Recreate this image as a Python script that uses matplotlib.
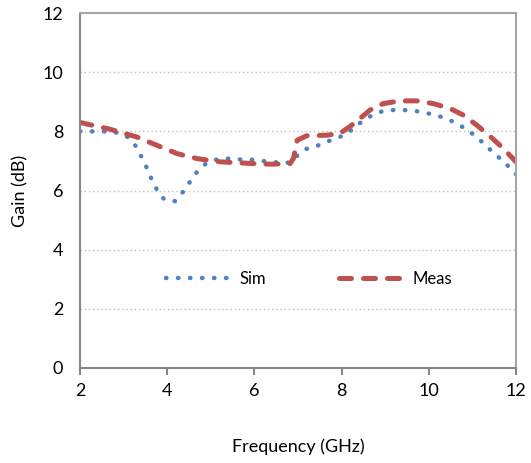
import numpy as np
import matplotlib.pyplot as plt

# simulated gain (dotted blue)
sim_f = [2.0, 2.5, 2.9, 3.1, 3.28, 3.41, 3.53, 3.64, 3.77, 3.93, 4.18, 4.36, 4.52, 4.68,
         4.88, 5.14, 5.42, 5.68, 5.96, 6.24, 6.51, 6.82, 7.0, 7.18, 7.44, 7.7, 7.96,
         8.19, 8.41, 8.65, 8.89, 9.16, 9.44, 9.72, 10.0, 10.26, 10.52, 10.76, 10.99,
         11.2, 11.4, 11.62, 11.81, 12.0]
sim_g = [8.0, 8.0, 7.95, 7.8, 7.5, 7.14, 6.77, 6.39, 6.01, 5.70, 5.64, 5.95, 6.29, 6.62,
         6.9, 7.05, 7.08, 7.05, 7.04, 6.99, 6.95, 6.94, 7.2, 7.4, 7.51, 7.67, 7.81,
         8.0, 8.27, 8.5, 8.66, 8.72, 8.72, 8.68, 8.6, 8.5, 8.35, 8.16, 7.93,
         7.67, 7.39, 7.1, 6.84, 6.55]

# measured gain (dashed red)
meas_f = [2.0, 2.69, 3.3, 3.76, 4.22, 4.68, 5.21, 5.97, 6.36, 6.82, 6.9, 6.98, 7.2, 7.66,
          7.96, 8.19, 8.42, 8.65, 8.96, 9.34, 9.72, 10.1, 10.49, 10.79, 11.1, 11.4,
          11.71, 12.0]
meas_g = [8.3, 8.07, 7.81, 7.53, 7.25, 7.08, 6.97, 6.91, 6.89, 6.91, 7.1, 7.7, 7.85, 7.87,
          7.93, 8.16, 8.43, 8.72, 8.94, 9.03, 9.03, 8.94, 8.77, 8.55, 8.21, 7.84,
          7.42, 6.97]

plt.rcParams['font.family'] = ['Lato', 'DejaVu Sans']

fig = plt.figure(figsize=(5.31, 4.63), dpi=100)
ax = fig.add_axes([80/531, 95/463, 436/531, 355/463])

ax.plot(sim_f, sim_g, color='#4F81BD', lw=3.2, linestyle=(0, (0.1, 2.6)),
        dash_capstyle='round', label='Sim')
ax.plot(meas_f, meas_g, color='#C0504D', lw=3.6, linestyle=(0, (2.4, 2.4)),
        dash_capstyle='round', label='Meas')

ax.set_xlim(2, 12)
ax.set_ylim(0, 12)
ax.set_xticks(np.arange(2, 13, 2))
ax.set_yticks(np.arange(0, 13, 2))
for y in range(2, 12, 2):
    ax.axhline(y, color='#BFBFBF', lw=1, linestyle=(0, (1, 2)), zorder=0)

for s in ax.spines.values():
    s.set_color('#A6A6A6')
    s.set_linewidth(1.5)
ax.spines['bottom'].set_color('#868686')
ax.spines['left'].set_color('#868686')
ax.tick_params(axis='x', length=5, width=1.5, color='#868686', labelsize=13, pad=6)
ax.tick_params(axis='y', length=0, labelsize=13, pad=12)

ax.set_xlabel('Frequency (GHz)', fontsize=13, labelpad=28)
ax.set_ylabel('Gain (dB)', fontsize=13, labelpad=10)

ax.legend(loc='center', bbox_to_anchor=(0.525, 0.25), ncol=2, frameon=False,
          fontsize=12, handlelength=3.9, columnspacing=4.4, handletextpad=0.5)

fig.savefig('out.png', dpi=100)
